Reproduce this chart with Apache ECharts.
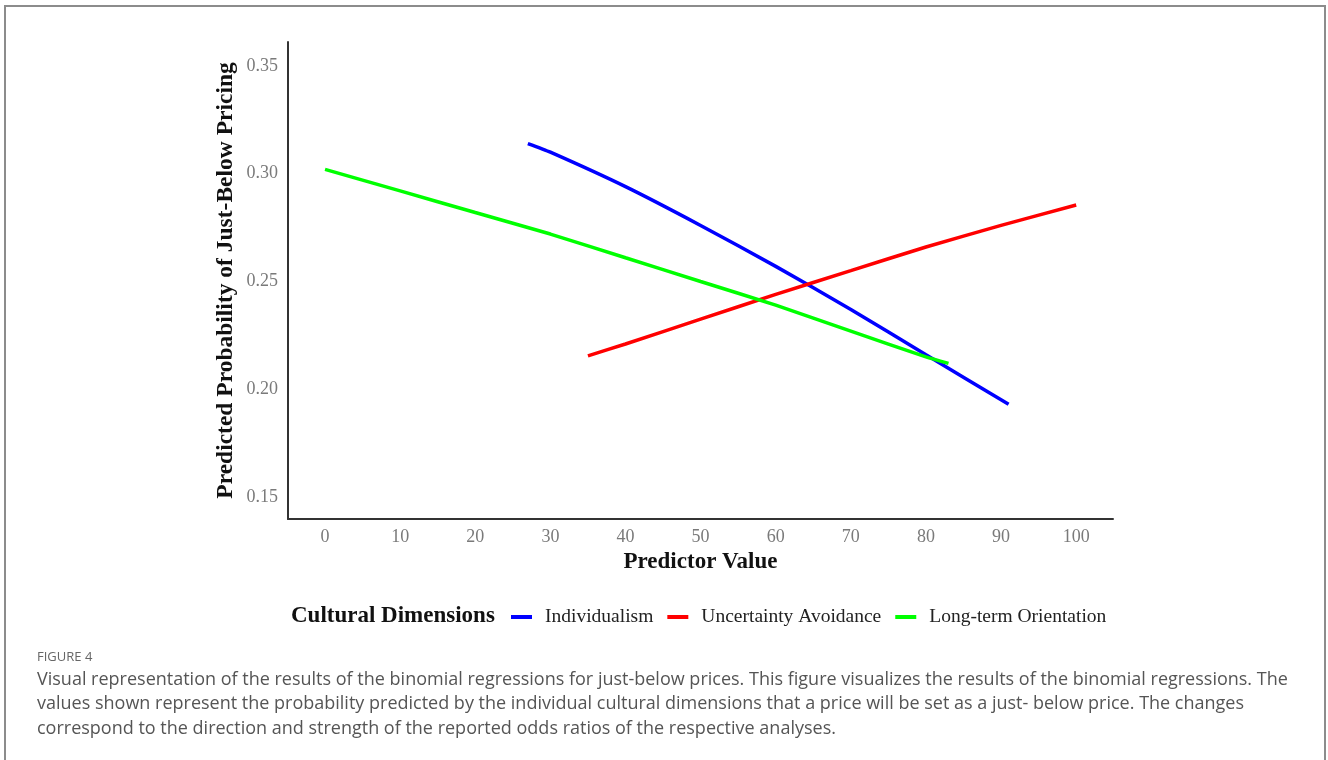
<!DOCTYPE html>
<html>
<head>
<meta charset="utf-8">
<script src="https://cdn.jsdelivr.net/npm/echarts@6/dist/echarts.min.js"></script>
<style>
  html, body { margin: 0; padding: 0; background: #fff; }
  #chart { width: 1328px; height: 760px; }
</style>
</head>
<body>
<div id="chart"></div>
<script>
// Predicted probability of just-below pricing along each cultural dimension
const individualismX = [27, 30, 40, 50, 60, 70, 80, 91];
const individualismY = [0.314, 0.310, 0.294, 0.276, 0.257, 0.237, 0.216, 0.193];

const uncertaintyX = [35, 40, 50, 60, 70, 80, 90, 100];
const uncertaintyY = [0.2155, 0.221, 0.2325, 0.244, 0.255, 0.266, 0.276, 0.2855];

const longTermX = [0, 10, 20, 30, 40, 50, 60, 70, 80, 83];
const longTermY = [0.302, 0.292, 0.282, 0.272, 0.261, 0.250, 0.239, 0.227, 0.215, 0.212];

const xTicks = [0, 10, 20, 30, 40, 50, 60, 70, 80, 90, 100];
const yTicks = [0.15, 0.20, 0.25, 0.30, 0.35];

const seriesNames = ['Individualism', 'Uncertainty Avoidance', 'Long-term Orientation'];
const seriesColors = ['#0000ff', '#ff0000', '#00ff00'];

const captionLines = [
  'Visual representation of the results of the binomial regressions for just-below prices. This figure visualizes the results of the binomial regressions. The',
  'values shown represent the probability predicted by the individual cultural dimensions that a price will be set as a just- below price. The changes',
  'correspond to the direction and strength of the reported odds ratios of the respective analyses.'
];

const pair = (xs, ys) => xs.map((x, i) => [x, ys[i]]);

const serif = '"Liberation Serif", "Times New Roman", serif';
const sans = '"Open Sans", Lato, sans-serif';

const chart = echarts.init(document.getElementById('chart'), null, { renderer: 'canvas' });

const option = {
  backgroundColor: '#ffffff',
  animation: false,
  grid: { left: 288, right: 215, top: 42, bottom: 241, containLabel: false },
  xAxis: {
    type: 'value',
    min: -4.93,
    max: 104.9,
    name: 'Predictor Value',
    nameLocation: 'middle',
    nameGap: 30,
    nameTextStyle: { fontFamily: serif, fontWeight: 'bold', fontSize: 23, color: '#111' },
    axisLine: { show: true, onZero: false, lineStyle: { color: '#333', width: 2 } },
    axisTick: { show: false },
    splitLine: { show: false },
    axisLabel: {
      customValues: xTicks,
      margin: 9,
      fontFamily: serif,
      fontSize: 18,
      color: '#7a7a7a'
    }
  },
  yAxis: {
    type: 'value',
    min: 0.1398,
    max: 0.3611,
    name: 'Predicted Probability of Just-Below Pricing',
    nameLocation: 'middle',
    nameGap: 50,
    nameMoveOverlap: false,
    nameTextStyle: { fontFamily: serif, fontWeight: 'bold', fontSize: 23.5, color: '#111' },
    axisLine: { show: true, onZero: false, lineStyle: { color: '#333', width: 2 } },
    axisTick: { show: false },
    splitLine: { show: false },
    axisLabel: {
      customValues: yTicks,
      margin: 10,
      fontFamily: serif,
      fontSize: 18,
      color: '#7a7a7a',
      formatter: v => v.toFixed(2)
    }
  },
  legend: {
    left: 506,
    top: 602,
    icon: 'rect',
    itemWidth: 21,
    itemHeight: 4,
    itemGap: 14,
    data: seriesNames,
    textStyle: { fontFamily: serif, fontSize: 19.5, color: '#222', padding: [0, 0, 0, 8] }
  },
  series: [
    { name: seriesNames[0], data: pair(individualismX, individualismY) },
    { name: seriesNames[1], data: pair(uncertaintyX, uncertaintyY) },
    { name: seriesNames[2], data: pair(longTermX, longTermY) }
  ].map((s, i) => Object.assign({
    type: 'line',
    smooth: 0.2,
    showSymbol: false,
    color: seriesColors[i],
    lineStyle: { width: 3.5, color: seriesColors[i] }
  }, s)),
  graphic: [
    {
      type: 'rect',
      shape: { x: 5, y: 6, width: 1320, height: 800 },
      style: { fill: 'none', stroke: '#8c8c8c', lineWidth: 2 },
      silent: true
    },
    {
      type: 'text',
      left: 291,
      top: 605,
      style: { text: 'Cultural Dimensions', font: 'bold 23px ' + serif, fill: '#111' }
    },
    {
      type: 'text',
      left: 37,
      top: 651,
      style: { text: 'FIGURE 4', font: '13px ' + sans, fill: '#666' }
    }
  ].concat(captionLines.map((line, i) => ({
    type: 'text',
    left: 37,
    top: 671 + i * 24.3,
    style: { text: line, font: '18px ' + sans, fill: '#555' }
  })))
};

chart.setOption(option);
</script>
</body>
</html>
